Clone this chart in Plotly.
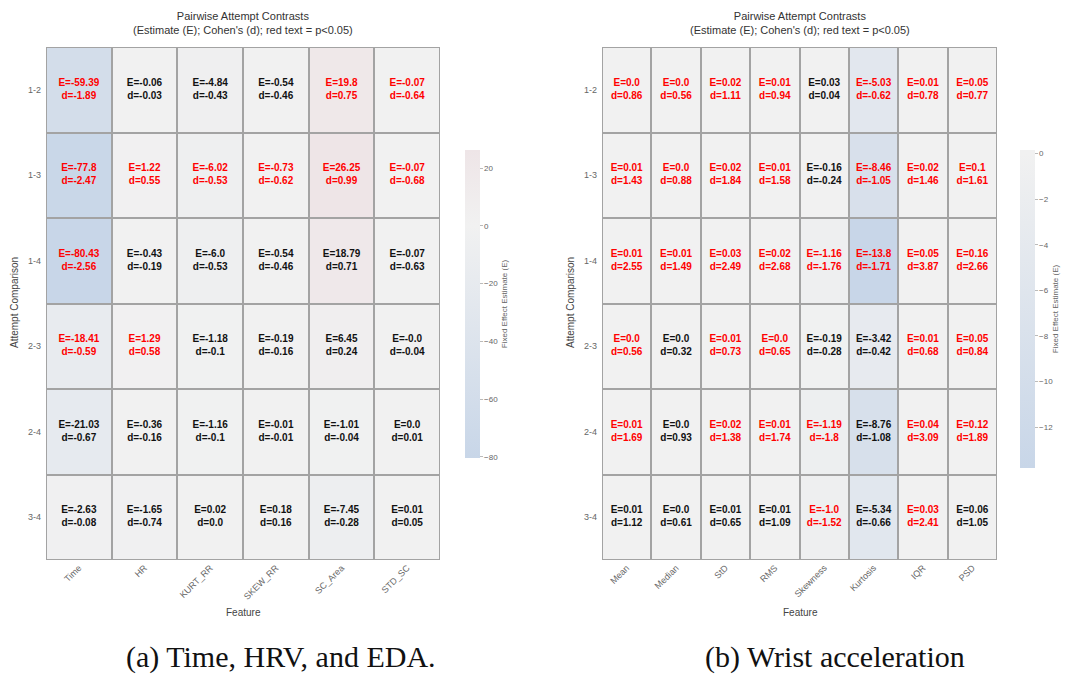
import plotly.graph_objects as go

# ---- data -------------------------------------------------------------
comparisons = ["1-2", "1-3", "1-4", "2-3", "2-4", "3-4"]

feat_a = ["Time", "HR", "KURT_RR", "SKEW_RR", "SC_Area", "STD_SC"]
est_a = [
    [-59.39, -0.06, -4.84, -0.54, 19.8, -0.07],
    [-77.8, 1.22, -6.02, -0.73, 26.25, -0.07],
    [-80.43, -0.43, -6.0, -0.54, 18.79, -0.07],
    [-18.41, 1.29, -1.18, -0.19, 6.45, -0.0],
    [-21.03, -0.36, -1.16, -0.01, -1.01, 0.0],
    [-2.63, -1.65, 0.02, 0.18, -7.45, 0.01],
]
cohen_a = [
    [-1.89, -0.03, -0.43, -0.46, 0.75, -0.64],
    [-2.47, 0.55, -0.53, -0.62, 0.99, -0.68],
    [-2.56, -0.19, -0.53, -0.46, 0.71, -0.63],
    [-0.59, 0.58, -0.1, -0.16, 0.24, -0.04],
    [-0.67, -0.16, -0.1, -0.01, -0.04, 0.01],
    [-0.08, -0.74, 0.0, 0.16, -0.28, 0.05],
]
sig_a = [
    [1, 0, 0, 0, 1, 1],
    [1, 1, 1, 1, 1, 1],
    [1, 0, 0, 0, 0, 0],
    [1, 1, 0, 0, 0, 0],
    [0, 0, 0, 0, 0, 0],
    [0, 0, 0, 0, 0, 0],
]

feat_b = ["Mean", "Median", "StD", "RMS", "Skewness", "Kurtosis", "IQR", "PSD"]
est_b = [
    [0.0, 0.0, 0.02, 0.01, 0.03, -5.03, 0.01, 0.05],
    [0.01, 0.0, 0.02, 0.01, -0.16, -8.46, 0.02, 0.1],
    [0.01, 0.01, 0.03, 0.02, -1.16, -13.8, 0.05, 0.16],
    [0.0, 0.0, 0.01, 0.0, -0.19, -3.42, 0.01, 0.05],
    [0.01, 0.0, 0.02, 0.01, -1.19, -8.76, 0.04, 0.12],
    [0.01, 0.0, 0.01, 0.01, -1.0, -5.34, 0.03, 0.06],
]
cohen_b = [
    [0.86, 0.56, 1.11, 0.94, 0.04, -0.62, 0.78, 0.77],
    [1.43, 0.88, 1.84, 1.58, -0.24, -1.05, 1.46, 1.61],
    [2.55, 1.49, 2.49, 2.68, -1.76, -1.71, 3.87, 2.66],
    [0.56, 0.32, 0.73, 0.65, -0.28, -0.42, 0.68, 0.84],
    [1.69, 0.93, 1.38, 1.74, -1.8, -1.08, 3.09, 1.89],
    [1.12, 0.61, 0.65, 1.09, -1.52, -0.66, 2.41, 1.05],
]
sig_b = [
    [1, 1, 1, 1, 0, 1, 1, 1],
    [1, 1, 1, 1, 0, 1, 1, 1],
    [1, 1, 1, 1, 1, 1, 1, 1],
    [1, 0, 1, 1, 0, 0, 1, 1],
    [1, 0, 1, 1, 1, 0, 1, 1],
    [0, 0, 0, 0, 1, 0, 1, 0],
]

# ---- styling ----------------------------------------------------------
FONT = "Liberation Sans, Arial, sans-serif"
NEG = (200, 214, 232)
MID = (241, 241, 241)
POS = (232, 204, 209)
W, H = 1065, 675


def mix(a, b, t):
    return tuple(round(a[i] + (b[i] - a[i]) * t) for i in range(3))


def rgb(c):
    return "rgb(%d,%d,%d)" % c


def diverging_scale(zmin, zmax):
    """Pale blue/red diverging scale centred on zero, clipped to the data range."""
    m = max(abs(zmin), abs(zmax))
    lo = mix(MID, NEG, -zmin / m) if zmin < 0 else mix(MID, POS, zmin / m)
    hi = mix(MID, POS, zmax / m) if zmax > 0 else mix(MID, NEG, -zmax / m)
    z0 = (0 - zmin) / (zmax - zmin)
    return [[0, rgb(lo)], [z0, rgb(MID)], [1, rgb(hi)]]


def panel(fig, feats, est, cohen, sig, xa, ya, cb_left, cb_top, cb_bottom):
    zmin = min(min(r) for r in est)
    zmax = max(max(r) for r in est)
    fig.add_trace(go.Heatmap(
        z=est, x=feats, y=comparisons, xaxis=xa, yaxis=ya,
        zmin=zmin, zmax=zmax, colorscale=diverging_scale(zmin, zmax),
        xgap=2, ygap=2,
        colorbar=dict(
            x=cb_left / W, xanchor="left", xpad=0,
            y=1 - (cb_top + cb_bottom) / 2 / H, yanchor="middle", ypad=0,
            len=(cb_bottom - cb_top) / H, thickness=15, outlinewidth=0,
            ticks="outside", ticklen=3, tickcolor="#bbbbbb",
            tickfont=dict(family=FONT, size=8, color="#666666"),
            title=dict(text="Fixed Effect Estimate (E)", side="right",
                       font=dict(family=FONT, size=8, color="#666666")),
        ),
        hoverongaps=False,
    ))
    xs, ys, txt, col = [], [], [], []
    for i, row in enumerate(comparisons):
        for j, f in enumerate(feats):
            xs.append(f)
            ys.append(row)
            txt.append("E=%s<br>d=%s" % (est[i][j], cohen[i][j]))
            col.append("#ff0000" if sig[i][j] else "#111111")
    fig.add_trace(go.Scatter(
        x=xs, y=ys, xaxis=xa, yaxis=ya, mode="text", text=txt,
        textfont=dict(family=FONT, size=10, color=col, weight="bold"),
        showlegend=False, hoverinfo="skip",
    ))


fig = go.Figure()
panel(fig, feat_a, est_a, cohen_a, sig_a, "x", "y", 465, 150, 458)
panel(fig, feat_b, est_b, cohen_b, sig_b, "x2", "y2", 1020, 150, 468)

ydom = [1 - 560 / H, 1 - 47 / H]
axis_common = dict(showgrid=False, zeroline=False, showline=False, ticks="",
                   tickfont=dict(family=FONT, size=9, color="#666666"))
fig.update_layout(
    width=W, height=H,
    margin=dict(l=0, r=0, t=0, b=0, autoexpand=False),
    paper_bgcolor="white", plot_bgcolor="#a3a3a3",
    showlegend=False,
    xaxis=dict(domain=[46 / W, 440 / W], anchor="y", tickangle=-45, **axis_common),
    yaxis=dict(domain=ydom, anchor="x", autorange="reversed", ticklabelstandoff=4, **axis_common),
    xaxis2=dict(domain=[602 / W, 997 / W], anchor="y2", tickangle=-45, **axis_common),
    yaxis2=dict(domain=ydom, anchor="x2", autorange="reversed", ticklabelstandoff=4, **axis_common),
)

title = "Pairwise Attempt Contrasts<br>(Estimate (E); Cohen's (d); red text = p<0.05)"
ann = []
for cx, ylab_x, cap, capx in [
    (243, 14, "(a) Time, HRV, and EDA.", 281),
    (800, 570, "(b) Wrist acceleration", 835),
]:
    ann.append(dict(text=title, x=cx / W, y=1 - 23 / H, xref="paper", yref="paper",
                    showarrow=False, xanchor="center", yanchor="middle",
                    font=dict(family=FONT, size=11, color="#333333")))
    ann.append(dict(text="Feature", x=cx / W, y=1 - 612 / H, xref="paper", yref="paper",
                    showarrow=False, xanchor="center", yanchor="middle",
                    font=dict(family=FONT, size=10, color="#444444")))
    ann.append(dict(text="Attempt Comparison", x=ylab_x / W, y=1 - 303 / H,
                    xref="paper", yref="paper", showarrow=False, textangle=-90,
                    xanchor="center", yanchor="middle",
                    font=dict(family=FONT, size=10, color="#444444")))
    ann.append(dict(text=cap, x=capx / W, y=1 - 657 / H, xref="paper", yref="paper",
                    showarrow=False, xanchor="center", yanchor="middle",
                    font=dict(family="Liberation Serif, DejaVu Serif, serif", size=30,
                              color="#111111")))
fig.update_layout(annotations=ann)

fig.write_html("out.html")
